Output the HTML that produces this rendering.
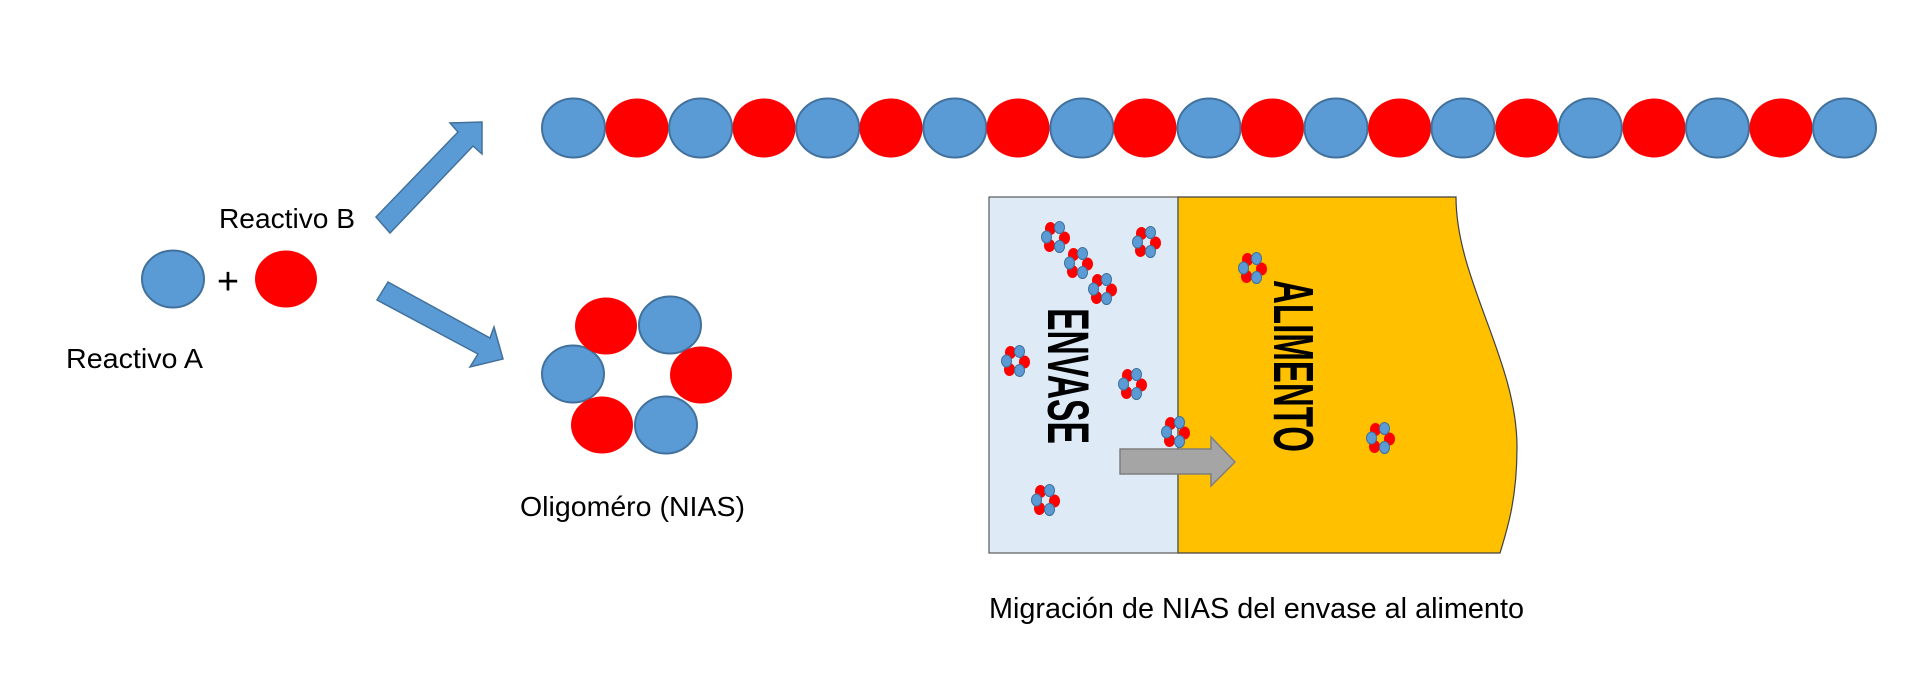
<!DOCTYPE html>
<html><head><meta charset="utf-8"><style>
html,body{margin:0;padding:0;background:#fff;}
svg{display:block;}
text{font-family:"Liberation Sans",sans-serif;}
</style></head><body>
<svg width="1920" height="685" viewBox="0 0 1920 685" xmlns="http://www.w3.org/2000/svg">
<defs>
<g id="mol">
<ellipse cx="-4.5" cy="-8.5" rx="5.5" ry="6.5" fill="#ff0000"/>
<ellipse cx="9.5" cy="1" rx="5.5" ry="6.5" fill="#ff0000"/>
<ellipse cx="-5.5" cy="8.5" rx="5.5" ry="6.5" fill="#ff0000"/>
<ellipse cx="4.5" cy="-9.5" rx="5" ry="6" fill="#5b9bd5" stroke="#41719c" stroke-width="1"/>
<ellipse cx="-8.5" cy="0" rx="5" ry="6" fill="#5b9bd5" stroke="#41719c" stroke-width="1"/>
<ellipse cx="4.5" cy="9.5" rx="5" ry="6" fill="#5b9bd5" stroke="#41719c" stroke-width="1"/>
</g>
</defs>

<ellipse cx="173" cy="279" rx="31" ry="28.5" fill="#5b9bd5" stroke="#41719c" stroke-width="2"/>
<ellipse cx="286" cy="279" rx="31" ry="28.5" fill="#ff0000"/>
<text x="228" y="294" font-size="38" text-anchor="middle">+</text>
<text x="219" y="228" font-size="28" textLength="136" lengthAdjust="spacingAndGlyphs">Reactivo B</text>
<text x="66" y="368" font-size="28" textLength="137" lengthAdjust="spacingAndGlyphs">Reactivo A</text>

<polygon points="376,217 458,132 450,123 482,122 482,154 473,146 390,233" fill="#5b9bd5" stroke="#41719c" stroke-width="1.5"/>
<polygon points="388,282 490,338 494,327 503,359 470,367 478,354 377,300" fill="#5b9bd5" stroke="#41719c" stroke-width="1.5"/>

<g>
<ellipse cx="573.5" cy="128" rx="31.5" ry="29.5" fill="#5b9bd5" stroke="#41719c" stroke-width="2"/>
<ellipse cx="637" cy="128" rx="31.5" ry="29.5" fill="#ff0000"/>
<ellipse cx="700.6" cy="128" rx="31.5" ry="29.5" fill="#5b9bd5" stroke="#41719c" stroke-width="2"/>
<ellipse cx="764" cy="128" rx="31.5" ry="29.5" fill="#ff0000"/>
<ellipse cx="827.7" cy="128" rx="31.5" ry="29.5" fill="#5b9bd5" stroke="#41719c" stroke-width="2"/>
<ellipse cx="891" cy="128" rx="31.5" ry="29.5" fill="#ff0000"/>
<ellipse cx="954.8" cy="128" rx="31.5" ry="29.5" fill="#5b9bd5" stroke="#41719c" stroke-width="2"/>
<ellipse cx="1018" cy="128" rx="31.5" ry="29.5" fill="#ff0000"/>
<ellipse cx="1081.9" cy="128" rx="31.5" ry="29.5" fill="#5b9bd5" stroke="#41719c" stroke-width="2"/>
<ellipse cx="1145" cy="128" rx="31.5" ry="29.5" fill="#ff0000"/>
<ellipse cx="1209" cy="128" rx="31.5" ry="29.5" fill="#5b9bd5" stroke="#41719c" stroke-width="2"/>
<ellipse cx="1272.5" cy="128" rx="31.5" ry="29.5" fill="#ff0000"/>
<ellipse cx="1336" cy="128" rx="31.5" ry="29.5" fill="#5b9bd5" stroke="#41719c" stroke-width="2"/>
<ellipse cx="1399.6" cy="128" rx="31.5" ry="29.5" fill="#ff0000"/>
<ellipse cx="1463" cy="128" rx="31.5" ry="29.5" fill="#5b9bd5" stroke="#41719c" stroke-width="2"/>
<ellipse cx="1526.8" cy="128" rx="31.5" ry="29.5" fill="#ff0000"/>
<ellipse cx="1590.3" cy="128" rx="31.5" ry="29.5" fill="#5b9bd5" stroke="#41719c" stroke-width="2"/>
<ellipse cx="1654" cy="128" rx="31.5" ry="29.5" fill="#ff0000"/>
<ellipse cx="1717.5" cy="128" rx="31.5" ry="29.5" fill="#5b9bd5" stroke="#41719c" stroke-width="2"/>
<ellipse cx="1781" cy="128" rx="31.5" ry="29.5" fill="#ff0000"/>
<ellipse cx="1844.5" cy="128" rx="31.5" ry="29.5" fill="#5b9bd5" stroke="#41719c" stroke-width="2"/>
</g>

<ellipse cx="573" cy="374" rx="31" ry="28.5" fill="#5b9bd5" stroke="#41719c" stroke-width="2"/>
<ellipse cx="670" cy="325" rx="31" ry="28.5" fill="#5b9bd5" stroke="#41719c" stroke-width="2"/>
<ellipse cx="666" cy="425" rx="31" ry="28.5" fill="#5b9bd5" stroke="#41719c" stroke-width="2"/>
<ellipse cx="606" cy="326" rx="31" ry="28.5" fill="#ff0000"/>
<ellipse cx="701" cy="375" rx="31" ry="28.5" fill="#ff0000"/>
<ellipse cx="602" cy="425" rx="31" ry="28.5" fill="#ff0000"/>
<text x="520" y="516" font-size="28" textLength="225" lengthAdjust="spacingAndGlyphs">Oligoméro (NIAS)</text>

<rect x="989" y="197" width="189" height="356" fill="#deebf7" stroke="#595959" stroke-width="1.2"/>
<path d="M1178,197 L1456,197 C1456,280 1517,360 1517,447 C1517,500 1507,530 1500,553 L1178,553 Z" fill="#ffc000" stroke="#404040" stroke-width="1.2"/>
<line x1="1178" y1="197" x2="1178" y2="553" stroke="#595959" stroke-width="1.2"/>

<text transform="translate(1048,376) rotate(90) scale(0.58,1)" x="0" y="0" font-size="58" font-weight="bold" text-anchor="middle">ENVASE</text>
<text transform="translate(1274,366) rotate(90) scale(0.58,1)" x="0" y="0" font-size="57" font-weight="bold" text-anchor="middle">ALIMENTO</text>

<use href="#mol" x="1055" y="237"/>
<use href="#mol" x="1146" y="242"/>
<use href="#mol" x="1078" y="263"/>
<use href="#mol" x="1102" y="289"/>
<use href="#mol" x="1015" y="361"/>
<use href="#mol" x="1132" y="384"/>
<use href="#mol" x="1045" y="500"/>
<use href="#mol" x="1252" y="268"/>
<use href="#mol" x="1380" y="438"/>

<polygon points="1120,449 1211,449 1211,437 1235,462 1211,486 1211,474 1120,474" fill="#a5a5a5" stroke="#7f7f7f" stroke-width="1.5"/>
<use href="#mol" x="1175" y="432"/>

<text x="989" y="618" font-size="29" textLength="535" lengthAdjust="spacingAndGlyphs">Migración de NIAS del envase al alimento</text>
</svg>
</body></html>
